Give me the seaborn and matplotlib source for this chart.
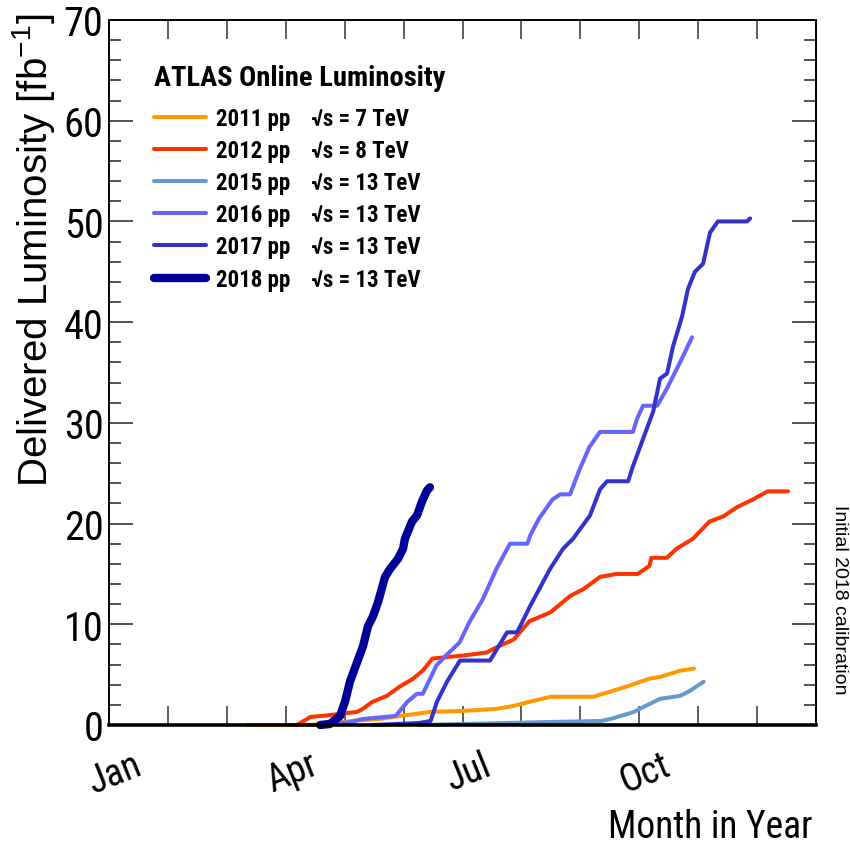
import numpy as np
import pandas as pd
import matplotlib
matplotlib.use("Agg")
import matplotlib.pyplot as plt
import matplotlib.transforms as mtransforms
from matplotlib import font_manager as fm
from matplotlib.ticker import MultipleLocator
import seaborn as sns

# ---------------- data (day of year, delivered luminosity fb^-1) ----------------
days_2011 = [71, 104, 115, 125, 140, 150, 166, 183, 200, 209, 217, 228, 250, 255, 267, 279, 285, 295, 302]
lumi_2011 = [0.0, 0.0, 0.2, 0.4, 0.6, 0.9, 1.3, 1.4, 1.6, 1.9, 2.3, 2.8, 2.8, 3.1, 3.8, 4.6, 4.8, 5.4, 5.6]

days_2012 = [97, 104, 110, 119, 128, 131, 136, 143.5, 150, 157, 162, 167, 183, 195, 200, 209, 217, 228,
             238, 245, 253.5, 262, 273, 279, 280, 288, 293, 301.5, 310, 317, 324, 332.5, 340, 350.6]
lumi_2012 = [0.0, 0.8, 0.9, 1.1, 1.3, 1.6, 2.3, 2.9, 3.8, 4.6, 5.4, 6.6, 6.9, 7.2, 7.7, 8.5, 10.3, 11.2,
             12.8, 13.5, 14.7, 15.0, 15.0, 15.8, 16.6, 16.6, 17.5, 18.5, 20.2, 20.7, 21.6, 22.4, 23.2, 23.2]

days_2015 = [160, 228, 254, 259, 271, 276, 284.5, 295, 300, 307]
lumi_2015 = [0.0, 0.3, 0.4, 0.6, 1.3, 1.8, 2.6, 2.9, 3.4, 4.3]

days_2016 = [112, 125, 131, 148, 154, 159, 162, 169, 174, 181, 186, 193, 200, 207, 216, 217.4, 222, 229,
             233, 238, 243, 248, 253.5, 270.5, 272.6, 275.7, 283, 288, 294.8, 301]
lumi_2016 = [0.0, 0.3, 0.6, 0.9, 2.3, 3.1, 3.1, 5.9, 6.9, 8.2, 10.2, 12.5, 15.5, 18.0, 18.0, 18.8, 20.5, 22.4,
             22.9, 22.9, 25.4, 27.6, 29.1, 29.1, 30.4, 31.7, 31.7, 33.4, 36.0, 38.5]

days_2017 = [136, 160, 166, 169.3, 174.5, 181.2, 196.7, 205.5, 210.7, 217.4, 227.7, 234.4, 239.6, 248.3,
             253.5, 257.1, 268, 270.5, 275.7, 280.9, 284.5, 288.1, 291.2, 295.9, 298.9, 302.5, 306.7,
             310.3, 314.4, 329.4, 331]
lumi_2017 = [0.0, 0.2, 0.4, 2.3, 4.3, 6.4, 6.4, 9.2, 9.2, 11.8, 15.5, 17.5, 18.5, 20.8,
             23.4, 24.2, 24.2, 25.7, 28.4, 31.1, 34.4, 34.9, 37.6, 40.6, 43.3, 45.0, 45.8,
             48.9, 50.0, 50.0, 50.3]

days_2018 = [109, 114, 119.3, 121.8, 124.4, 128, 131.1, 133.7, 136.3, 138.9, 142.5, 145.1, 149.2,
             151.8, 152.8, 156.4, 159, 161.6, 164.2, 165.7]
lumi_2018 = [0.0, 0.1, 0.9, 2.3, 4.3, 6.2, 7.8, 9.8, 10.8, 12.2, 14.7, 15.5, 16.5,
             17.5, 18.5, 20.2, 20.8, 22.2, 23.3, 23.6]

series_labels = ["2011 pp    \u221as = 7 TeV", "2012 pp    \u221as = 8 TeV",
                 "2015 pp    \u221as = 13 TeV", "2016 pp    \u221as = 13 TeV",
                 "2017 pp    \u221as = 13 TeV", "2018 pp    \u221as = 13 TeV"]
series_colors = ["#ff9900", "#ff3300", "#6699cc", "#6666ff", "#3333cc", "#000099"]
series_widths = [2.9, 2.9, 2.9, 2.9, 2.9, 6.0]

month_labels = ["Jan", "", "", "Apr", "", "", "Jul", "", "", "Oct", "", "", ""]
y_ticks = [0, 10, 20, 30, 40, 50, 60, 70]

# ---------------- fonts ----------------
def has_font(name):
    try:
        fm.findfont(fm.FontProperties(family=name), fallback_to_default=False)
        return True
    except Exception:
        return False

NARROW = "Liberation Sans"
for cand in ["Roboto Condensed", "Arimo", "Liberation Sans"]:
    if has_font(cand):
        NARROW = cand
        break
REG = "Liberation Sans"
NF = [NARROW, REG, "DejaVu Sans"]
RF = [REG, "DejaVu Sans"]

sns.set_style("ticks")
plt.rcParams["font.family"] = RF
plt.rcParams["text.color"] = "black"
plt.rcParams["xtick.color"] = "black"
plt.rcParams["ytick.color"] = "black"
plt.rcParams["mathtext.fontset"] = "custom"
plt.rcParams["mathtext.rm"] = REG

fig = plt.figure(figsize=(8.5, 8.45), dpi=100)
ax = fig.add_axes([109 / 850, 1 - 726 / 845, 707 / 850, 705 / 845])

all_days = [days_2011, days_2012, days_2015, days_2016, days_2017, days_2018]
all_lumi = [lumi_2011, lumi_2012, lumi_2015, lumi_2016, lumi_2017, lumi_2018]
for d, l, lab, c, w in zip(all_days, all_lumi, series_labels, series_colors, series_widths):
    df = pd.DataFrame({"day": d, "lumi": l})
    sns.lineplot(data=df, x="day", y="lumi", color=c, lw=w, label=lab, ax=ax,
                 estimator=None, sort=False, clip_on=False)

ax.set_xlim(0, 365)
ax.set_ylim(0, 70)
ax.set_xlabel("")
ax.set_ylabel("")

# frame
for s in ["left", "right", "top"]:
    ax.spines[s].set_linewidth(1.4)
    ax.spines[s].set_color("black")
ax.spines["bottom"].set_linewidth(2.6)
ax.spines["bottom"].set_color("black")
for s in ax.spines.values():
    s.set_visible(True)
    s.set_zorder(5)

# x ticks (monthly)
month_pos = [k * 365 / 12 for k in range(13)]
ax.set_xticks(month_pos)
ax.set_xticklabels(month_labels, rotation=22, ha="center", fontfamily=NF, fontsize=27)
ax.tick_params(axis="x", which="major", direction="in", length=14, width=1.1,
               top=True, bottom=True, pad=15, color="#333333", labelcolor="black")
offset = mtransforms.ScaledTranslation(6 / 100, 0, fig.dpi_scale_trans)
for lbl in ax.get_xticklabels():
    lbl.set_transform(lbl.get_transform() + offset)

# y ticks
ax.set_yticks(y_ticks)
ax.yaxis.set_minor_locator(MultipleLocator(2))
ax.set_yticklabels([str(v) for v in y_ticks], fontfamily=NF, fontsize=29)
ax.tick_params(axis="y", which="major", direction="in", length=17, width=1.2,
               left=True, right=True, pad=4, color="#333333", labelcolor="black")
ax.tick_params(axis="y", which="minor", direction="in", length=8.5, width=1.2,
               left=True, right=True, color="#333333")

# legend
leg = ax.legend(title="ATLAS Online Luminosity", loc="upper left",
                bbox_to_anchor=(0.064, 0.937), frameon=False, borderaxespad=0, borderpad=0,
                handlelength=2.25, handletextpad=0.45, labelspacing=0.40,
                prop=fm.FontProperties(family=NF, weight="bold", size=16.5),
                title_fontproperties=fm.FontProperties(family=NF, weight="bold", size=20.5),
                alignment="left")
leg._legend_box.sep = 11
for t in leg.get_texts():
    t.set_color("black")
leg.get_title().set_color("black")

# axis titles
fig.text(34 / 850, 1 - 250 / 845, "Delivered Luminosity [fb$^{-1}$]", rotation=90,
         ha="center", va="center", fontsize=29, fontfamily=RF)
fig.text(813 / 850, 1 - 838 / 845, "Month in Year", ha="right", va="baseline",
         fontsize=27, fontfamily=NF)
fig.text(848 / 850, 1 - 600 / 845, "Initial 2018 calibration", rotation=270,
         ha="right", va="center", fontsize=14, fontfamily=RF)

fig.savefig("out.png", dpi=100)
